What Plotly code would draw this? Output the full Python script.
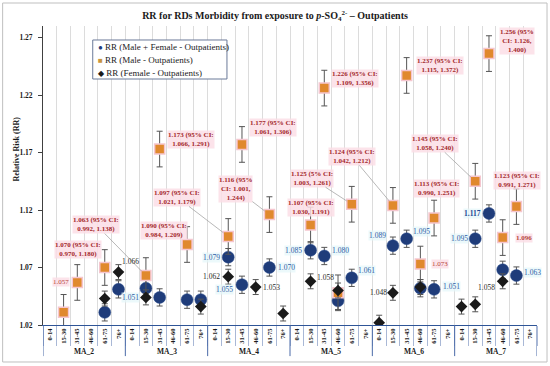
import plotly.graph_objects as go

# ---------------- data ----------------
groups = ["MA_2", "MA_3", "MA_4", "MA_5", "MA_6", "MA_7"]
ages = ["0-14", "15-30", "31-45", "46-60", "61-75", "76+"]

N = None
rr_total = [N, N, N, N, 1.031, 1.051,
            N, 1.052, 1.044, N, 1.042, 1.042,
            N, 1.079, 1.055, N, 1.070, N,
            N, 1.085, 1.080, 1.041, 1.061, N,
            N, 1.089, 1.095, 1.052, 1.051, N,
            N, 1.095, 1.117, 1.068, 1.063, N]
rr_male = [N, 1.031, 1.057, N, 1.070, N,
           N, 1.063, 1.173, N, 1.090, N,
           N, 1.097, 1.177, N, 1.116, N,
           N, 1.107, 1.226, 1.048, 1.125, N,
           N, 1.124, 1.237, 1.073, 1.113, N,
           N, 1.145, 1.256, 1.096, 1.123, N]
rr_female = [N, N, N, N, 1.043, 1.066,
             N, 1.044, N, N, N, 1.036,
             N, 1.062, N, 1.053, N, 1.030,
             N, 1.058, N, 1.050, N, N,
             1.022, 1.048, N, 1.053, N, N,
             1.036, 1.038, N, 1.058, N, N]
male_ci_low = [N, N, N, N, 0.970, N,
               N, 0.992, 1.066, N, 0.984, N,
               N, 1.021, 1.061, N, 1.001, N,
               N, 1.030, 1.109, N, 1.003, N,
               N, 1.042, 1.115, N, 0.990, N,
               N, 1.058, 1.126, N, 0.991, N]
male_ci_high = [N, N, N, N, 1.180, N,
                N, 1.138, 1.291, N, 1.209, N,
                N, 1.179, 1.306, N, 1.244, N,
                N, 1.191, 1.356, N, 1.261, N,
                N, 1.212, 1.372, N, 1.251, N,
                N, 1.240, 1.400, N, 1.271, N]
err_total = 0.0075
err_male = 0.0155
err_female = 0.0065

y_ticks = [1.02, 1.07, 1.12, 1.17, 1.22, 1.27]

# ---------------- label placement (pixel offsets) ----------------
CI2 = "{v} (95% CI:<br>{lo}, {hi})"
CI3 = "{v} (95%<br>CI: {lo},<br>{hi})"
male_labels = [  # index, template, dx, dy, leader line
    (4, CI2, -27, -18, False),
    (2, "{v}", -16, 0, False),
    (7, CI2, -50, -51, True),
    (10, CI2, -23, -14, False),
    (13, CI2, -51, -39, True),
    (8, CI2, 31, -10, False),
    (14, CI2, 31, -17, False),
    (16, CI3, -34, -26, True),
    (19, CI2, 0, -17, False),
    (20, CI2, 31, -10, False),
    (22, "{v} (5% CI:<br>{lo}, {hi})", -40, -26, True),
    (25, CI2, -41, -49, True),
    (26, CI2, 33, -10, False),
    (27, "{v}", 20, 0, False),
    (28, CI2, 2, -30, False),
    (31, CI2, -40, -38, True),
    (32, CI3, 28, -13, False),
    (33, "{v}", 21, 0, False),
    (34, CI2, 1, -26, False),
]
total_labels = [(5, 12, 8), (13, -17, 0), (14, -17, 5), (16, 17, 0), (19, -17, 0),
                (20, 16, -6), (22, 15, -7), (25, -15, -10), (26, 15, -7), (28, 17, -3),
                (31, -16, 0), (32, -16, 0), (34, 16, -3)]
female_labels = [(5, 12, -11), (13, -17, 0), (15, 16, 0), (19, 15, -4), (25, -14, 0), (33, -16, 6)]

SERIF = "Liberation Serif, Times New Roman, serif"
C_TOTAL = "#1F3C7A"
C_MALE = "#E0892D"
C_FEMALE = "#1A1A1A"

n = len(groups) * len(ages)
xs = list(range(n))

fig = go.Figure()
eb = dict(type="constant", color="#555555", thickness=1, width=3)
fig.add_trace(go.Scatter(x=xs, y=rr_total, mode="markers", name="RR (Male + Female - Outpatients)",
                         marker=dict(symbol="circle", size=12, color=C_TOTAL,
                                     line=dict(color="#2B4C8C", width=0.5)),
                         error_y=dict(eb, value=err_total)))
fig.add_trace(go.Scatter(x=xs, y=rr_male, mode="markers", name="RR (Male - Outpatients)",
                         marker=dict(symbol="square", size=10, color=C_MALE,
                                     line=dict(color="#F5C6CF", width=1.5)),
                         error_y=dict(eb, value=err_male)))
fig.add_trace(go.Scatter(x=xs, y=rr_female, mode="markers", name="RR (Female - Outpatients)",
                         marker=dict(symbol="diamond", size=9, color=C_FEMALE),
                         error_y=dict(eb, value=err_female)))

f3 = lambda v: f"{v:.3f}"

for idx, tpl, dx, dy, lead in male_labels:
    v = rr_male[idx]
    lo = male_ci_low[idx]
    hi = male_ci_high[idx]
    txt = tpl.format(v=f3(v), lo=f3(lo) if lo else "", hi=f3(hi) if hi else "")
    big = "<br>" in txt
    fig.add_annotation(x=idx, y=v, text=txt, showarrow=True, ax=dx, ay=dy, arrowhead=0,
                       arrowwidth=0.7, standoff=6,
                       arrowcolor="#9A9A9A" if lead else "rgba(0,0,0,0)",
                       font=dict(family=SERIF, size=7, color="#A3282B" if big else "#B5453A",
                                 weight="bold" if (big or idx == 33) else "normal"),
                       bgcolor="rgba(252,222,230,0.85)", borderpad=0)

for idx, dx, dy in total_labels:
    v = rr_total[idx]
    fig.add_annotation(x=idx, y=v, text=f3(v), showarrow=True, ax=dx, ay=dy,
                       arrowcolor="rgba(0,0,0,0)",
                       font=dict(family=SERIF, size=7.5, color="#2F5BA6" if idx != 32 else "#1F4A94",
                                 weight="bold" if idx == 32 else "normal"),
                       bgcolor="rgba(228,246,250,0.7)", borderpad=0)

for idx, dx, dy in female_labels:
    v = rr_female[idx]
    fig.add_annotation(x=idx, y=v, text=f3(v), showarrow=True, ax=dx, ay=dy,
                       arrowcolor="rgba(0,0,0,0)",
                       font=dict(family=SERIF, size=7.5, color="#2A2A2A"), borderpad=0)

# group labels and separators
for g, name in enumerate(groups):
    c = g * len(ages) + (len(ages) - 1) / 2
    fig.add_annotation(x=c, y=-0.087, xref="x", yref="paper", text=name, showarrow=False,
                       yanchor="middle", font=dict(family=SERIF, size=7.5, color="#1A1A1A", weight="bold"))
for g in range(len(groups) + 1):
    b = g * len(ages) - 0.5
    fig.add_shape(type="line", xref="x", yref="paper", x0=b, x1=b, y0=0, y1=-0.104,
                  line=dict(color="#4A6AA8", width=1))

# y axis title
fig.add_annotation(x=-0.066, y=0.59, xref="paper", yref="paper", text="Relative Risk (RR)",
                   textangle=-90, showarrow=False,
                   font=dict(family=SERIF, size=8, color="#1A1A1A", weight="bold"))

# custom legend
fig.add_shape(type="rect", xref="paper", yref="paper", x0=0.1007, x1=0.3724, y0=0.8227, y1=0.9532,
              line=dict(color="#6B7A99", width=1), fillcolor="white", layer="above")
leg = [("●", C_TOTAL, "RR (Male + Female - Outpatients)", 0.9308),
       ("■", "#C9963E", "RR (Male - Outpatients)", 0.8863),
       ("◆", C_FEMALE, "RR (Female - Outpatients)", 0.8418)]
for sym, col, lab, yy in leg:
    fig.add_annotation(x=0.108, y=yy, xref="paper", yref="paper", xanchor="left", yanchor="middle",
                       showarrow=False,
                       text=f"<span style='color:{col};font-size:8px'>{sym}</span> {lab}",
                       font=dict(family=SERIF, size=9, color="#1A1A1A"))

# outer border
fig.add_shape(type="rect", xref="paper", yref="paper", x0=-0.0817, x1=1.0203, y0=-0.1237, y1=1.0769,
              line=dict(color="#BFBFBF", width=1), fillcolor="rgba(0,0,0,0)", layer="below")

fig.update_layout(
    width=550, height=366,
    margin=dict(l=43, r=13, t=26, b=41),
    plot_bgcolor="white", paper_bgcolor="white",
    showlegend=False,
    font=dict(family=SERIF, color="#1A1A1A"),
    title=dict(text="RR for RDs Morbidity from exposure to <i>p</i>-SO<sub>4</sub><sup>2-</sup> – Outpatients",
               x=0.5, xref="container", y=0.958, yref="container", yanchor="middle", xanchor="center",
               font=dict(family=SERIF, size=10, color="#1A1A1A", weight="bold")),
    xaxis=dict(range=[-0.5, n - 0.5], tickmode="array", tickvals=xs, ticktext=ages * len(groups),
               tickangle=-90, ticks="", showgrid=False, zeroline=False,
               showline=True, linecolor="#2F5597", linewidth=1,
               tickfont=dict(family=SERIF, size=6.5, color="#1A1A1A", weight="bold"),
               minor=dict(tick0=-0.5, dtick=1, ticks="outside", ticklen=20, tickcolor="#A9B8D6",
                          tickwidth=1, showgrid=True, gridcolor="#DCDCDC", gridwidth=1)),
    yaxis=dict(range=[1.02, 1.28], tickmode="array", tickvals=y_ticks,
               ticktext=[f"{t:.2f}" for t in y_ticks], ticks="outside", ticklen=4,
               tickcolor="#404040", showline=True, linecolor="#404040", linewidth=1,
               showgrid=False, zeroline=False, ticklabelstandoff=4,
               tickfont=dict(family=SERIF, size=7.5, color="#1A1A1A", weight="bold")),
)

fig.write_html("out.html", config={"displayModeBar": False},
               post_script="document.body.style.margin='0';document.body.style.padding='0';")
